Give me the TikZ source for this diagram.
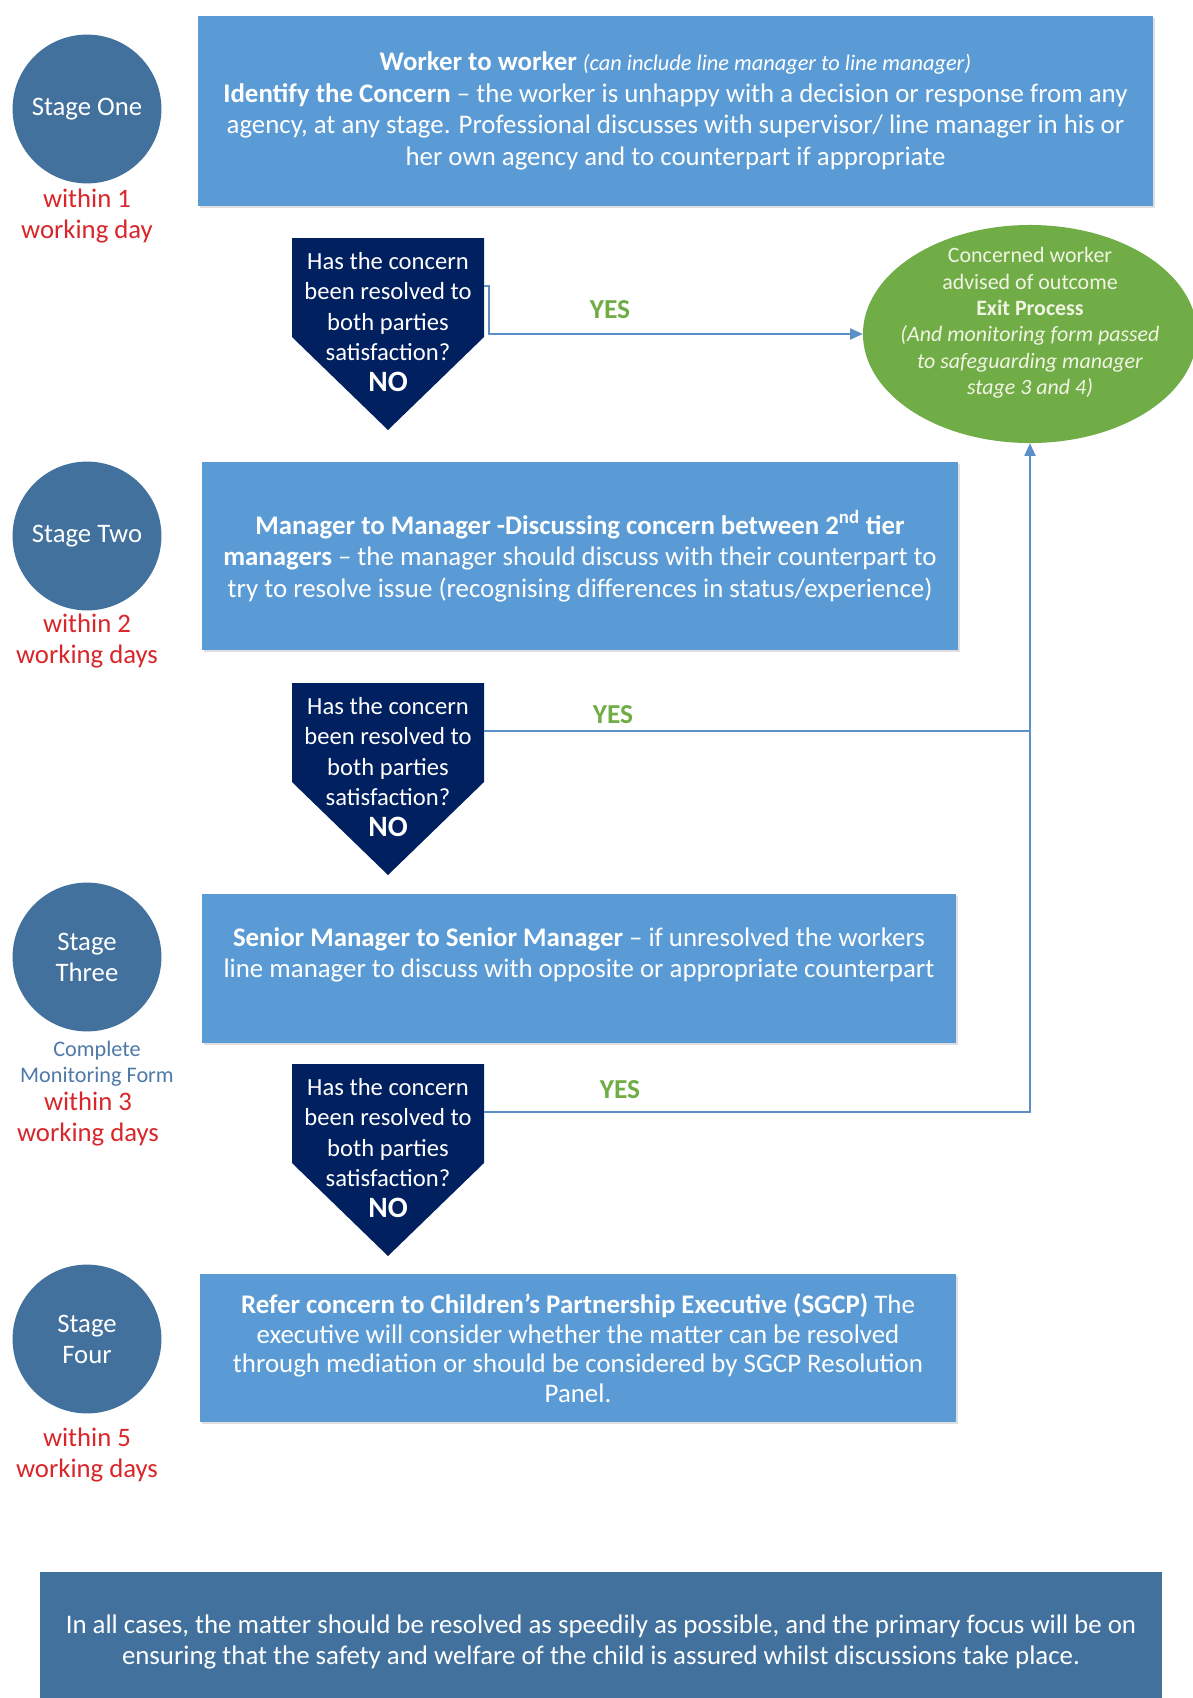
\documentclass[tikz,border=0pt]{standalone}
\usepackage{fontspec}
\setmainfont{Carlito}
\usepackage{xcolor}
\definecolor{stageBlue}{HTML}{41719C}
\definecolor{boxBlue}{HTML}{5B9BD5}
\definecolor{decBlue}{HTML}{002060}
\definecolor{exitGreen}{HTML}{70AD47}
\definecolor{yesGreen}{HTML}{70AD47}
\definecolor{dayRed}{HTML}{D9262A}
\definecolor{formBlue}{HTML}{4F7AA8}
\definecolor{lineBlue}{HTML}{5B8FC8}
\definecolor{exitText}{HTML}{F2F4E4}
\usepackage{tikz}
\usetikzlibrary{shapes.geometric, arrows.meta, shadows}

\tikzset{
  stagecircle/.style={circle, fill=stageBlue, text=white, minimum size=3.72cm,
    inner sep=0pt, align=center, font=\fontsize{19}{22}\selectfont},
  daytext/.style={text=dayRed, align=center, inner sep=0pt,
    font=\fontsize{19}{22}\selectfont},
  formtext/.style={text=formBlue, align=center, inner sep=0pt,
    font=\fontsize{15.8}{18.5}\selectfont},
  stagebox/.style={rectangle, fill=boxBlue, text=white, align=center, inner sep=0pt,
    font=\fontsize{19.1}{22.4}\selectfont,
    drop shadow={shadow xshift=1.5pt, shadow yshift=-1.5pt, opacity=0.25}},
  boxtext/.style={text=white, align=center, inner sep=0pt,
    font=\fontsize{19.1}{22.4}\selectfont},
  question/.style={text=white, align=center, inner sep=0pt,
    font=\fontsize{17.5}{21.7}\selectfont},
  exitnode/.style={ellipse, fill=exitGreen, inner sep=0pt},
  exittext/.style={text=exitText, align=center, inner sep=0pt,
    font=\fontsize{15.6}{18.8}\selectfont},
  yestext/.style={text=yesGreen, inner sep=0pt, font=\fontsize{19.5}{20}\selectfont\bfseries},
  yesline/.style={draw=lineBlue, line width=1.1pt},
  notebox/.style={rectangle, fill=stageBlue, text=white, align=center, inner sep=0pt,
    font=\fontsize{19.1}{22.6}\selectfont}
}

\begin{document}
\begin{tikzpicture}[x=0.025cm, y=-0.025cm, >={Triangle[length=9pt, width=8pt]}]
  \useasboundingbox (0,0) rectangle (1192,1698);
  \fill[white] (0,0) rectangle (1192,1698);

  % ---------------- the four stages ----------------
  \node[stagecircle] (s1) at (87,109)  {Stage One};
  \node[stagecircle] (s2) at (87,536)  {Stage Two};
  \node[stagecircle] (s3) at (87,957)  {Stage\\Three};
  \node[stagecircle] (s4) at (87,1339) {Stage\\Four};

  % ---------------- time limits ----------------
  \node[daytext]  (t1) at (87,216)  {within 1\\working day};
  \node[daytext]  (t2) at (87,641)  {within 2\\working days};
  \node[formtext] (f3) at (97,1064) {Complete\\Monitoring Form};
  \node[daytext]  (t3) at (88,1119) {within 3\\working days};
  \node[daytext]  (t4) at (87,1455) {within 5\\working days};

  % ---------------- the stage boxes ----------------
  \node[stagebox, minimum width=23.875cm, minimum height=4.75cm] (b1) at (675.5,111)
    {\textbf{Worker to worker} {\fontsize{15.9}{22.4}\selectfont\itshape (can include line manager to line manager)}\\
     \textbf{Identify the Concern} – the worker is unhappy with a decision or response from any\\
     agency, at any stage. Professional discusses with supervisor/ line manager in his or\\
     her own agency and to counterpart if appropriate};
  \node[stagebox, minimum width=18.9cm, minimum height=4.7cm] (b2) at (580,556)
    {\textbf{Manager to Manager -Discussing concern between 2\textsuperscript{nd} tier}\\
     \textbf{managers} – the manager should discuss with their counterpart to\\
     try to resolve issue (recognising differences in status/experience)};
  \node[stagebox, minimum width=18.85cm, minimum height=3.725cm] (b3) at (579,968.5) {};
  \node[boxtext] (b3text) at (579,955)
    {\textbf{Senior Manager to Senior Manager} – if unresolved the workers\\
     line manager to discuss with opposite or appropriate counterpart};
  \node[stagebox, minimum width=18.9cm, minimum height=3.7cm,
        font=\fontsize{19.1}{21}\selectfont] (b4) at (578,1348)
    {\textbf{Refer concern to Children’s Partnership Executive (SGCP)} The\\
     executive will consider whether the matter can be resolved\\
     through mediation or should be considered by SGCP Resolution\\
     Panel.};

  % ---------------- the three questions ----------------
  \foreach \n/\t in {1/238,2/683,3/1064} {
    \fill[decBlue] (292,\t) -- ++(192,0) -- ++(0,99) -- ++(-96,93) -- ++(-96,-93) -- cycle;
    \node[question] (q\n) at (388,{\t+84})
      {Has the concern\\been resolved to\\both parties\\satisfaction?\\
       {\fontsize{21}{22}\selectfont\bfseries NO}};
    \coordinate (q\n r) at (484,{\t+48});
  }

  % ---------------- the way out ----------------
  \node[exitnode, minimum width=8.35cm, minimum height=5.45cm] (exit) at (1030,334) {};
  \node[exittext] (exitlabel) at (1030,323)
    {Concerned worker\\advised of outcome\\\textbf{Exit Process}\\
     \textit{(And monitoring form passed}\\\textit{to safeguarding manager}\\
     \textit{stage 3 and 4)}};

  % ---------------- the yes routes ----------------
  \draw[yesline, ->] (q1r) -- ++(5,0) |- (exit.west);
  \draw[yesline] (q2r) -- (q2r -| exit.south);
  \draw[yesline, ->] (q3r) -| (exit.south);
  \node[yestext] (y1) at (610,310)  {YES};
  \node[yestext] (y2) at (613,715)  {YES};
  \node[yestext] (y3) at (620,1090) {YES};

  % ---------------- the note at the foot ----------------
  \node[notebox, minimum width=28.05cm, minimum height=3.5cm] (note) at (601,1642)
    {In all cases, the matter should be resolved as speedily as possible, and the primary focus will be on\\
     ensuring that the safety and welfare of the child is assured whilst discussions take place.};
\end{tikzpicture}
\end{document}
